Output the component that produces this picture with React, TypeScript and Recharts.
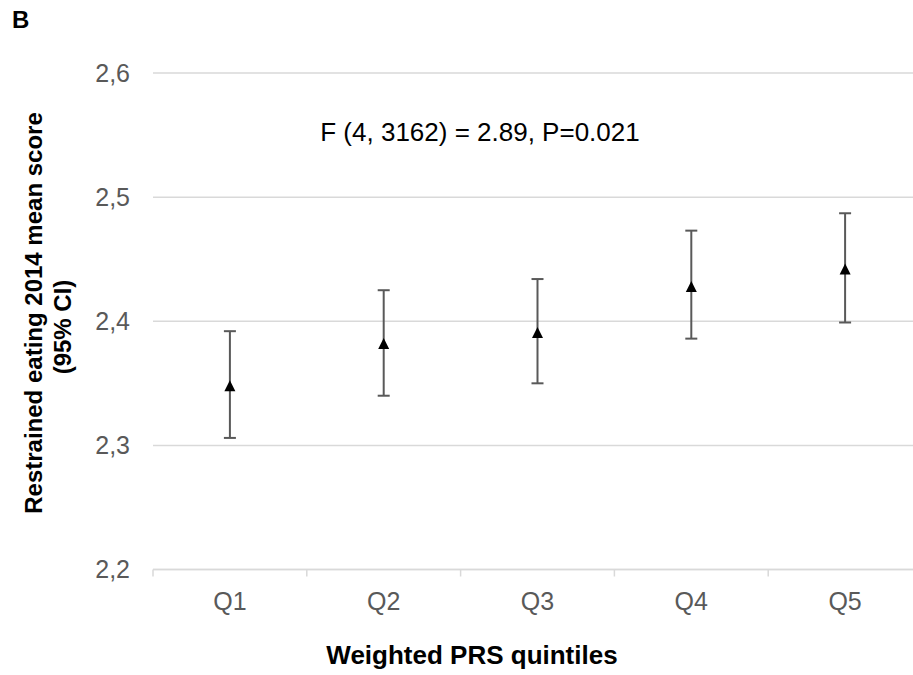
import React from "react";
import { LineChart, Line, XAxis, YAxis, CartesianGrid, ErrorBar } from "recharts";

// restrained eating mean score by weighted PRS quintile, with 95% CI
const quintiles = ["Q1", "Q2", "Q3", "Q4", "Q5"];
const meanScore = [2.348, 2.382, 2.391, 2.428, 2.442];
const lowerCI = [2.306, 2.34, 2.35, 2.386, 2.399];
const upperCI = [2.392, 2.425, 2.434, 2.473, 2.487];
const yTicks = [2.2, 2.3, 2.4, 2.5, 2.6];

const data = quintiles.map((q, i) => ({
  quintile: q,
  mean: meanScore[i],
  ci: [meanScore[i] - lowerCI[i], upperCI[i] - meanScore[i]],
}));

const FONT = "'Liberation Sans', Arial, Helvetica, sans-serif";
const GRID = "#d9d9d9";
const TEXT_GREY = "#595959";

const Triangle = (props: any) => {
  const { cx, cy } = props;
  if (cx == null || cy == null) return null;
  return (
    <path
      d={`M${cx},${cy - 5.5} L${cx + 5.5},${cy + 5.5} L${cx - 5.5},${cy + 5.5} Z`}
      fill="#000"
    />
  );
};

// category labels plus small tick marks on the band boundaries
const QuintileTick = (props: any) => {
  const { x, y, payload, index, visibleTicksCount } = props;
  const half = payload.offset ?? 0;
  return (
    <g>
      <line x1={x - half} x2={x - half} y1={y - 7} y2={y} stroke={GRID} strokeWidth={1.5} />
      {index === visibleTicksCount - 1 && (
        <line x1={x + half} x2={x + half} y1={y - 7} y2={y} stroke={GRID} strokeWidth={1.5} />
      )}
      <text x={x} y={y + 33} textAnchor="middle" fill={TEXT_GREY} fontSize={25} fontFamily={FONT}>
        {payload.value}
      </text>
    </g>
  );
};

export default function App() {
  return (
    <div
      style={{
        position: "fixed",
        left: 0,
        top: 0,
        width: 913,
        height: 675,
        overflow: "hidden",
        background: "#fff",
        fontFamily: FONT,
      }}
    >
      <LineChart
        width={925}
        height={675}
        data={data}
        margin={{ top: 73, right: 3, bottom: 45.5, left: 0 }}
      >
        <CartesianGrid vertical={false} stroke={GRID} strokeWidth={1.5} />
        <XAxis
          dataKey="quintile"
          scale="band"
          interval={0}
          height={60}
          tickLine={false}
          tickSize={7}
          tickMargin={0}
          axisLine={{ stroke: GRID, strokeWidth: 1.5 }}
          tick={<QuintileTick />}
        />
        <YAxis
          width={153}
          domain={[2.2, 2.6]}
          ticks={yTicks}
          axisLine={false}
          tickLine={false}
          tickSize={0}
          tickMargin={23}
          tick={{ fill: TEXT_GREY, fontSize: 25, fontFamily: FONT }}
          tickFormatter={(v: number) => v.toFixed(1).replace(".", ",")}
        />
        <Line
          dataKey="mean"
          stroke="none"
          dot={<Triangle />}
          activeDot={false}
          isAnimationActive={false}
        >
          <ErrorBar dataKey="ci" direction="y" width={6} stroke={TEXT_GREY} strokeWidth={2} />
        </Line>
      </LineChart>

      <svg
        width={913}
        height={675}
        style={{ position: "absolute", left: 0, top: 0, pointerEvents: "none" }}
        fontFamily={FONT}
      >
        <text x={12} y={28} fontSize={24} fontWeight="bold" fill="#000">
          B
        </text>
        <text x={480} y={141} fontSize={26} textAnchor="middle" fill="#000">
          F (4, 3162) = 2.89, P=0.021
        </text>
        <text transform="translate(41.7, 313) rotate(-90)" fontSize={24} fontWeight="bold" textAnchor="middle" fill="#000">
          Restrained eating 2014 mean score
        </text>
        <text transform="translate(70.7, 327) rotate(-90)" fontSize={24} fontWeight="bold" textAnchor="middle" fill="#000">
          (95% CI)
        </text>
        <text x={472} y={664} fontSize={26} fontWeight="bold" textAnchor="middle" fill="#000">
          Weighted PRS quintiles
        </text>
      </svg>
    </div>
  );
}
